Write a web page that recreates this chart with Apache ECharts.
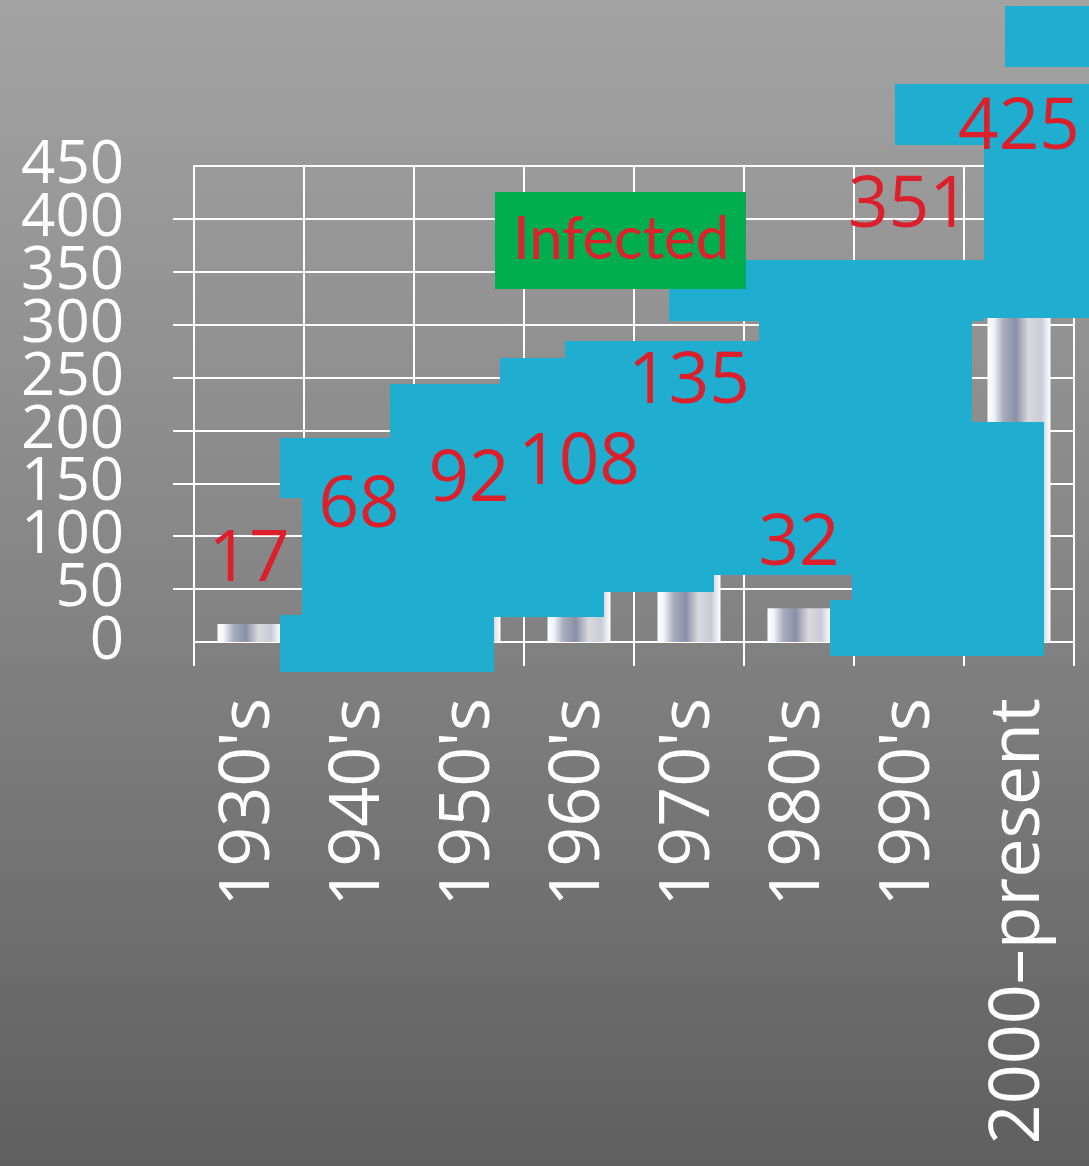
<!DOCTYPE html>
<html>
<head>
<meta charset="utf-8">
<script src="https://cdn.jsdelivr.net/npm/echarts@6/dist/echarts.min.js"></script>
<style>
  html, body { margin:0; padding:0; width:1089px; height:1166px; overflow:hidden; }
  body { background: linear-gradient(180deg, #a3a3a3 0%, #858585 50%, #5f5f5f 100%); }
  #chart { width:1089px; height:1166px; }
</style>
</head>
<body>
<div id="chart"></div>
<script>
// ---- data ----
const categories = ["1930's", "1940's", "1950's", "1960's", "1970's", "1980's", "1990's", "2000–present"];
const infected = [17, 68, 92, 108, 135, 32, 351, 425];
const seriesName = 'Infected';
const yMin = 0, yMax = 450, yStep = 50;

// ---- styling (kept apart from the data) ----
// the reference draws the 1970's value label higher than its bar would put it
const labelShiftY = { 4: -53 };

// decorative overlay blocks present in the reference picture (x1, y1, x2, y2)
const overlayBlocks = [
  [1005, 6, 1089, 67],
  [895, 84, 1089, 145],
  [984, 145, 1089, 318],
  [746, 260, 984, 321],
  [669, 289, 746, 321],
  [759, 321, 972, 341],
  [565, 341, 972, 422],
  [852, 422, 1044, 656],
  [565, 422, 852, 575],
  [565, 575, 714, 592],
  [565, 592, 604, 617],
  [500, 358, 565, 617],
  [390, 384, 500, 617],
  [302, 438, 494, 672],
  [280, 438, 302, 498],
  [280, 615, 302, 672],
  [830, 600, 852, 656]
];

const chart = echarts.init(document.getElementById('chart'), null, { renderer: 'canvas' });

const barFill = new echarts.graphic.LinearGradient(0, 0, 1, 0, [
  { offset: 0.00, color: '#ffffff' },
  { offset: 0.10, color: '#f2f4fb' },
  { offset: 0.25, color: '#a9adbf' },
  { offset: 0.45, color: '#8a8fa6' },
  { offset: 0.65, color: '#d9d9dc' },
  { offset: 0.85, color: '#c9ccd8' },
  { offset: 1.00, color: '#ffffff' }
]);

const graphics = [{
  type: 'rect', z: 4,
  shape: { x: 495, y: 192, width: 251, height: 97 },
  style: { fill: '#00ae4f' }
}];
overlayBlocks.forEach(function (b) {
  graphics.push({
    type: 'rect', z: 3, silent: true,
    shape: { x: b[0], y: b[1], width: b[2] - b[0], height: b[3] - b[1] },
    style: { fill: '#20aed0' }
  });
});

const labelData = infected.map(function (v, i) {
  const item = { value: v };
  if (labelShiftY[i] !== undefined) item.label = { offset: [0, labelShiftY[i]] };
  return item;
});

const axisFont = "'Open Sans', sans-serif";
const yLabelStyle = { margin: 70, color: '#ffffff', fontSize: 60, fontFamily: axisFont };

const option = {
  animation: false,
  backgroundColor: 'transparent',
  grid: { left: 194, top: 166, right: 15, bottom: 524, containLabel: false },
  legend: {
    data: [seriesName],
    left: 508, top: 208,
    itemWidth: 0, itemHeight: 0, itemGap: 0,
    icon: 'rect',
    z: 6,
    padding: 0,
    textStyle: {
      color: '#e0202a',
      fontSize: 60,
      lineHeight: 64,
      fontFamily: "'Segoe Print', 'Comic Sans MS', 'Lato', cursive"
    }
  },
  xAxis: {
    type: 'category',
    data: categories,
    boundaryGap: true,
    axisLine: { show: true, lineStyle: { color: '#ffffff', width: 2 } },
    axisTick: { show: true, length: 24, lineStyle: { color: '#ffffff', width: 2 } },
    splitLine: { show: true, lineStyle: { color: '#ffffff', width: 2 } },
    axisLabel: {
      interval: 0, rotate: 90, margin: 56,
      color: '#ffffff', fontSize: 70, fontFamily: axisFont
    }
  },
  yAxis: [
    {
      type: 'value',
      min: yMin, max: yMax, interval: yStep,
      axisLine: { show: true, lineStyle: { color: '#ffffff', width: 2 } },
      axisTick: { show: true, length: 21, lineStyle: { color: '#ffffff', width: 2 } },
      splitLine: { show: true, lineStyle: { color: '#ffffff', width: 2 } },
      axisLabel: Object.assign({ showMinLabel: false, showMaxLabel: false }, yLabelStyle)
    },
    {
      // same scale, used only to print the end labels (0 and 450)
      type: 'value',
      position: 'left',
      min: yMin, max: yMax, interval: yStep,
      axisLine: { show: false },
      axisTick: { show: false },
      splitLine: { show: false },
      axisLabel: Object.assign({
        showMinLabel: true, showMaxLabel: true,
        formatter: function (v) { return (v === yMin || v === yMax) ? String(v) : ''; }
      }, yLabelStyle)
    }
  ],
  series: [
    {
      name: seriesName,
      type: 'bar',
      data: infected,
      barWidth: 63,
      z: 2,
      itemStyle: { color: barFill }
    },
    {
      name: 'values',
      type: 'bar',
      data: labelData,
      barWidth: 63,
      barGap: '-100%',
      z: 10,
      silent: true,
      itemStyle: { color: 'rgba(0,0,0,0)' },
      label: {
        show: true, position: 'top', distance: 28,
        color: '#dc1f2b', fontSize: 71, fontFamily: axisFont
      }
    }
  ],
  graphic: graphics
};

chart.setOption(option);
</script>
</body>
</html>
